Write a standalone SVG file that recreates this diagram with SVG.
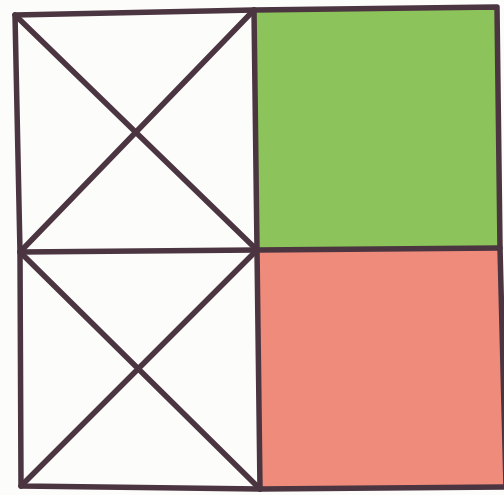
<svg xmlns="http://www.w3.org/2000/svg" width="504" height="495" viewBox="0 0 504 495">
<style>
.ln{stroke:#4b3540;stroke-width:5.5;fill:none;stroke-linecap:round;stroke-linejoin:round}
</style>
<rect width="504" height="495" fill="#fcfcfa"/>
<g id="green-cell"><polygon points="254,10 497,7 500,248 257,250" fill="#8cc35a"/></g>
<g id="pink-cell"><polygon points="257,250 500,248 506,487 260,489" fill="#ee8b7b"/></g>
<g id="top-left-cell"><path class="ln" d="M15,15 L257,250 M254,10 L20,252"/></g>
<g id="bottom-left-cell"><path class="ln" d="M20,252 L260,489 M257,250 L21,486"/></g>
<g id="connectors">
<path class="ln" d="M15,15 L254,10 L497,7 L500,248 L506,487 L260,489 L21,486 L20,252 Z"/>
<path class="ln" d="M254,10 L257,250 L260,489"/>
<path class="ln" d="M20,252 L257,250 L500,248"/>
</g>
</svg>
